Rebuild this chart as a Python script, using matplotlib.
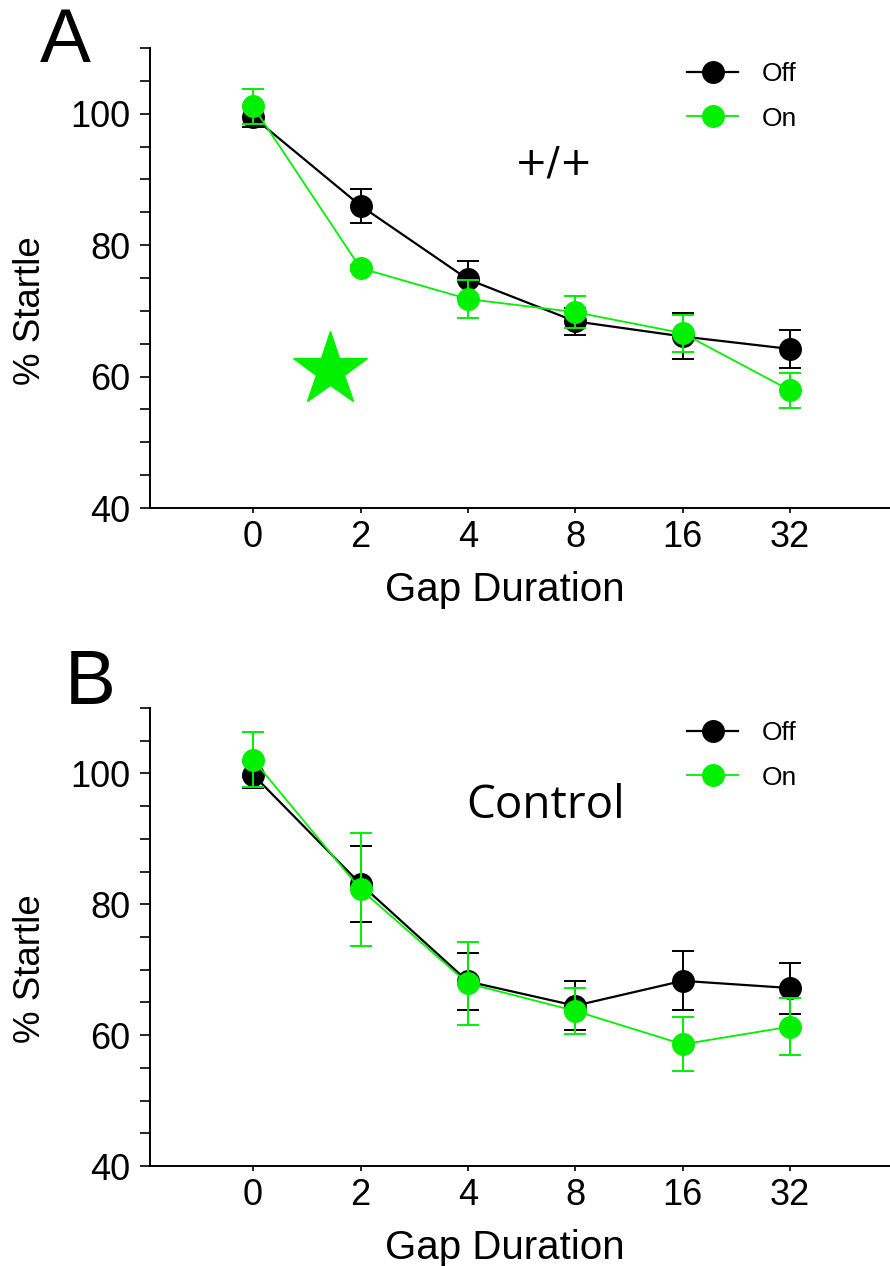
"""Gap-prestartle inhibition: % startle vs gap duration, laser off/on."""

import matplotlib.pyplot as plt
from matplotlib.lines import Line2D
from matplotlib.ticker import MultipleLocator

# categories on the x axis
gap_labels = ["0", "2", "4", "8", "16", "32"]

# panel A (+/+)
a_off = [99.5, 86.0, 74.8, 68.4, 66.1, 64.2]
a_off_err = [1.5, 2.6, 2.8, 2.1, 3.5, 2.9]
a_on = [101.1, 76.5, 71.8, 69.8, 66.6, 57.9]
a_on_err = [2.6, 0.5, 2.9, 2.4, 2.8, 2.7]

# panel B (Control)
b_off = [99.8, 83.1, 68.2, 64.5, 68.3, 67.2]
b_off_err = [2.0, 5.8, 4.3, 3.7, 4.5, 3.9]
b_on = [102.1, 82.3, 67.9, 63.7, 58.6, 61.3]
b_on_err = [4.2, 8.6, 6.3, 3.5, 4.1, 4.4]

GREEN = "#00f000"
W, H = 890, 1266

plt.rcParams["font.family"] = ["Liberation Sans", "DejaVu Sans"]


def draw_panel(ax, off, off_err, on, on_err, note, note_xy, note_kw,
               legend_top_px, ylabel_y):
    x = list(range(len(gap_labels)))
    ax.errorbar(x, off, yerr=off_err, color="black", marker="o", ms=15.5,
                lw=1.6, capsize=8, capthick=1.4, elinewidth=1.4, zorder=3)
    ax.errorbar(x, on, yerr=on_err, color=GREEN, marker="o", ms=15.5,
                lw=1.3, capsize=8, capthick=1.4, elinewidth=1.4, zorder=4)

    ax.set_xlim(-0.96, 5.93)
    ax.set_ylim(40, 110)
    ax.set_xticks(x)
    ax.set_xticklabels(gap_labels)
    ax.set_yticks([40, 60, 80, 100])
    ax.yaxis.set_minor_locator(MultipleLocator(5))

    for side in ("top", "right"):
        ax.spines[side].set_visible(False)
    for side in ("left", "bottom"):
        ax.spines[side].set_linewidth(1.4)

    ax.tick_params(axis="y", which="both", direction="out", length=7,
                   width=1.2, labelsize=26, pad=7)
    ax.tick_params(axis="x", direction="out", length=3.6, width=1.2,
                   labelsize=26, pad=5)

    ax.set_ylabel("% Startle", fontsize=26.5)
    ax.yaxis.set_label_coords(-0.161, ylabel_y)
    ax.yaxis.label.set_va("center")
    ax.set_xlabel("Gap Duration", fontsize=29)
    ax.xaxis.set_label_coords(0.48, -0.178)
    ax.xaxis.label.set_va("center")

    ax.text(*note_xy, note, ha="center", va="center", **note_kw)

    handles = [
        Line2D([], [], color="black", marker="o", ms=15.5, lw=1.6),
        Line2D([], [], color=GREEN, marker="o", ms=15.5, lw=1.3),
    ]
    ax.legend(handles, ["Off", "On"], loc="upper left",
              bbox_to_anchor=(687 / W, 1 - legend_top_px / H),
              bbox_transform=fig.transFigure, frameon=False, fontsize=19,
              handlelength=1.95, handletextpad=0.9, labelspacing=0.78,
              borderpad=0, borderaxespad=0)


fig = plt.figure(figsize=(W / 100, H / 100), dpi=100)
ax_a = fig.add_axes([150 / W, 1 - 508 / H, 740 / W, 460 / H])
ax_b = fig.add_axes([150 / W, 1 - 1166 / H, 740 / W, 458 / H])

draw_panel(ax_a, a_off, a_off_err, a_on, a_on_err, "+/+", (2.8, 92.4),
           dict(fontsize=28, family=["DejaVu Sans"]), 62, 0.43)
ax_a.plot([0.72], [61.0], marker="*", ms=56, color=GREEN, ls="none", zorder=2)

draw_panel(ax_b, b_off, b_off_err, b_on, b_on_err, "Control", (2.72, 95.0),
           dict(fontsize=33, family=["Open Sans", "DejaVu Sans"]), 721, 0.43)

fig.text(65 / W, 1 - 42 / H, "A", fontsize=55, ha="center", va="center")
fig.text(90 / W, 1 - 684 / H, "B", fontsize=55, ha="center", va="center")

fig.savefig("out.png", dpi=100)
